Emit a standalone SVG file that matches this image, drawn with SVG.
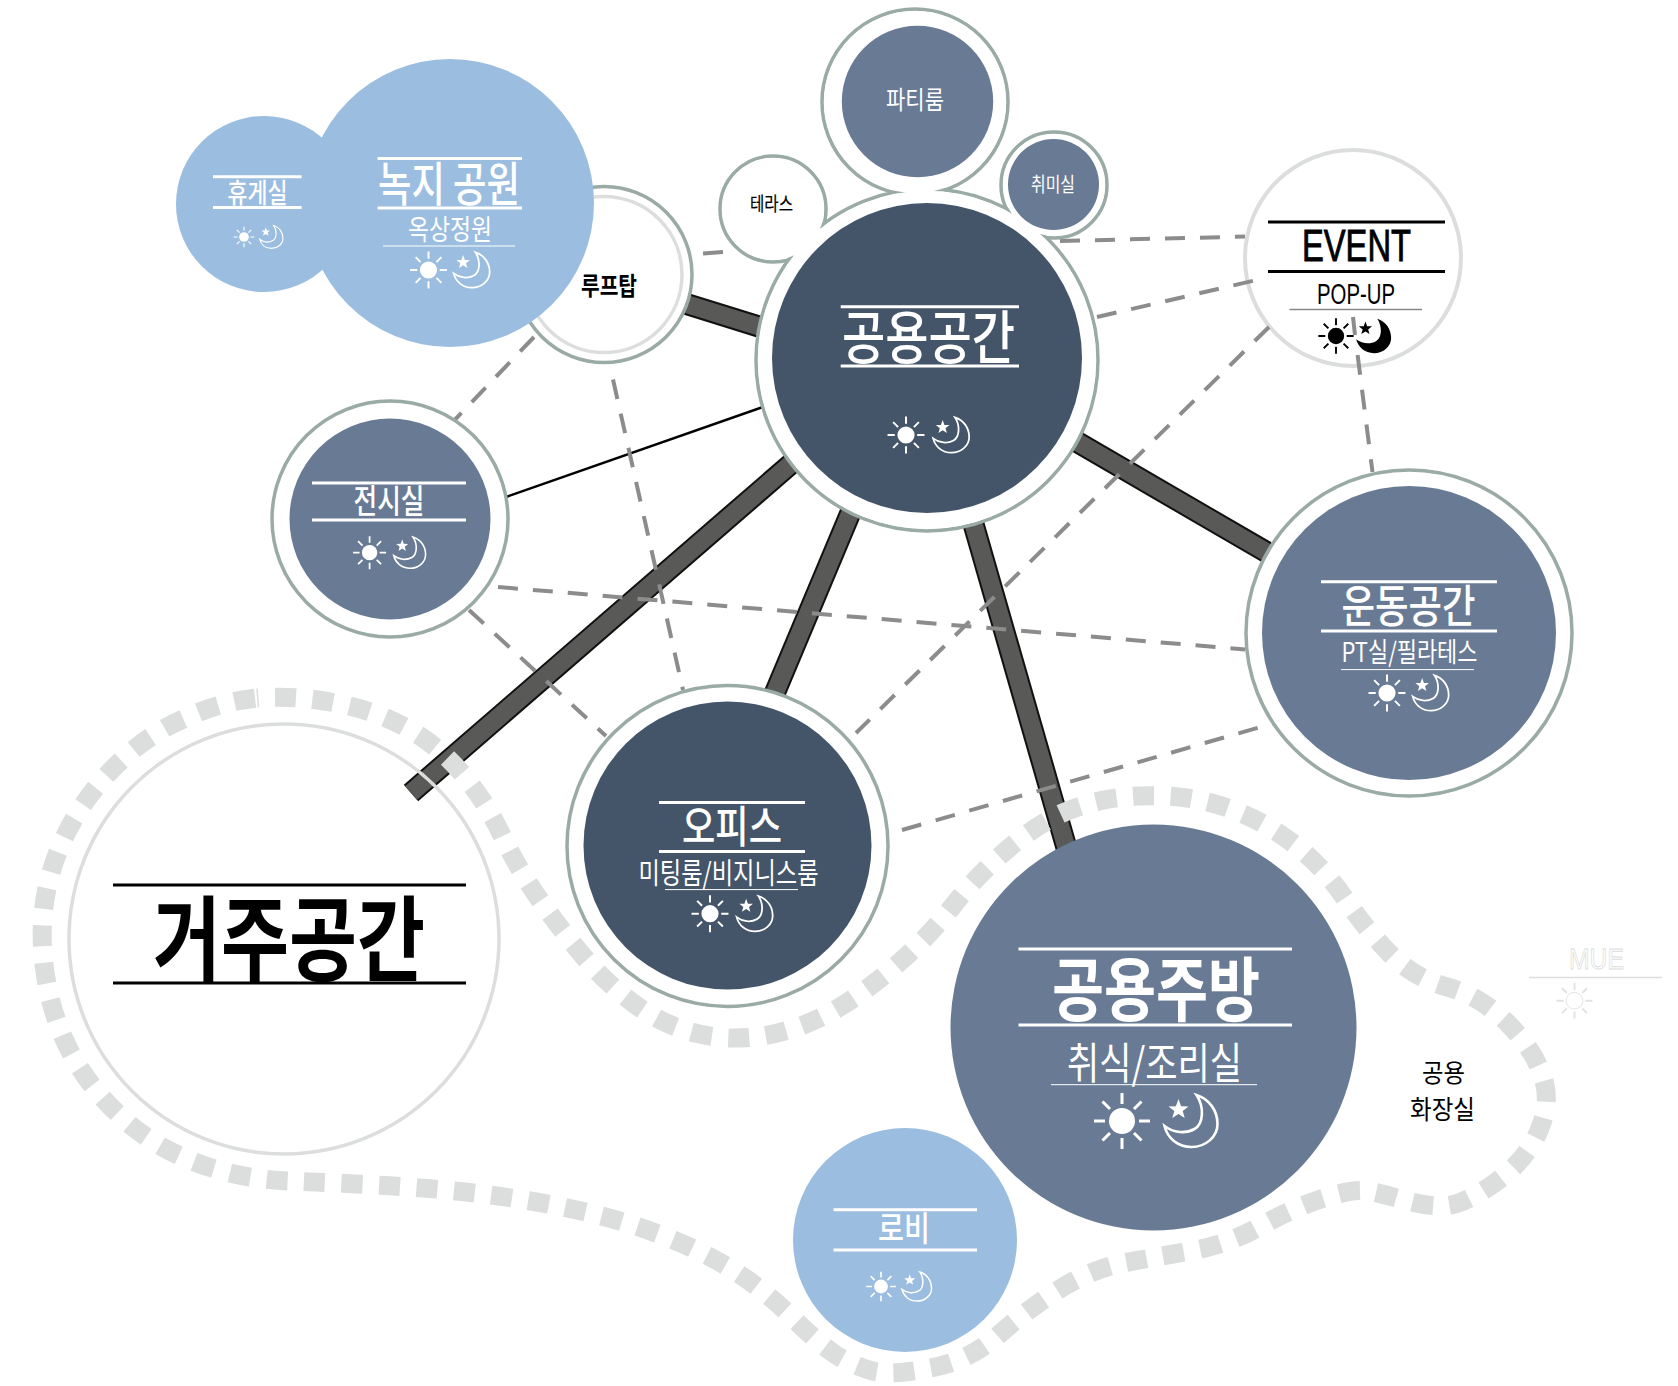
<svg xmlns="http://www.w3.org/2000/svg" width="1678" height="1386" viewBox="0 0 1678 1386">
<style>
text{font-family:"Noto Sans CJK KR","Noto Sans",sans-serif;fill:#fff;font-weight:400}
.k{fill:#000}.b{font-weight:700}.m{font-weight:500}
.en{font-family:"Liberation Sans",sans-serif}
.ring{fill:#fff;stroke:#9aaaa5;stroke-width:3.500}
.cover{fill:#fff;stroke:none}
.light{fill:#fff;stroke:#dcdddd;stroke-width:4}
.sky{fill:#9bbddf}.mid{fill:#697b94}.deep{fill:#445569}
.r{stroke:#fff;stroke-width:3}.rs{stroke:#fff;stroke-width:1}
.rk{stroke:#000;stroke-width:3}
.barO{stroke:#111;stroke-width:22;fill:none}.barI{stroke:#595957;stroke-width:18;fill:none}
.dash{stroke:#8c8c8c;stroke-width:4;stroke-dasharray:20 15;fill:none}
.solid{stroke-dasharray:none}
</style>
<defs>
<path id="rays" stroke-width="3" d="M0-17V-28M0 17V28M-17 0H-28M17 0H28M-12-12L-19.500-19.500M12-12L19.500-19.500M-12 12L-19.500 19.500M12 12L19.500 19.500"/>
<path id="crescent" d="M5-26C18-22 26-10 26 3C26 16 14 26 0 26C-14 26-24 17-27 5C-18 12-6 13 3 8C12 3 13-14 5-26Z"/>
<polygon id="star" points="-13,-22 -10.400,-14.800 -3,-14.600 -8.800,-10 -6.800,-3 -13,-7 -19.200,-3 -17.200,-10 -23,-14.600 -15.600,-14.800"/>
<g id="sun"><circle r="13" fill="#fff"/><use href="#rays" stroke="#fff"/></g>
<g id="moon"><use href="#crescent" fill="none" stroke="#fff" stroke-width="2.600"/><use href="#star" fill="#fff"/></g>
<g id="sunK"><circle r="13" fill="#000"/><use href="#rays" stroke="#000"/></g>
<g id="moonK"><use href="#crescent" fill="#000"/><use href="#star" fill="#000"/></g>
</defs>
<rect width="1678" height="1386" fill="#fff"/>

<g id="n-event">
<circle class="light" cx="1353" cy="258" r="108"/>
<path class="rk" d="M1268 222H1445M1268 271.500H1445"/>
<path d="M1289.500 309.500H1422" stroke="#888" stroke-width="1.500"/>
<text class="k en" x="1302" y="261" font-size="45" textLength="109" lengthAdjust="spacingAndGlyphs" style="stroke:#000;stroke-width:.9">EVENT</text>
<text class="k en" x="1317" y="303.500" font-size="30" textLength="78" lengthAdjust="spacingAndGlyphs">POP-UP</text>
<use href="#sunK" transform="translate(1336 336) scale(.63)"/><use href="#moonK" transform="translate(1374 336) scale(.66)"/>
</g>

<g id="connectors">
<g class="bars">
<path class="barO" d="M680 302L770 330"/><path class="barI" d="M680 302L770 330"/>
<path class="barO" d="M800 456L411 793"/><path class="barI" d="M800 456L411 793"/>
<path class="barO" d="M860 490L774 695"/><path class="barI" d="M860 490L774 695"/>
<path class="barO" d="M968 505L1070 860"/><path class="barI" d="M968 505L1070 860"/>
<path class="barO" d="M1060 432L1280 560"/><path class="barI" d="M1060 432L1280 560"/>
<path d="M506 497L770 404.500" stroke="#000" stroke-width="2.500"/>
</g>
<g class="dashes">
<path class="dash" d="M1060 241L1245 236.600"/>
<path class="dash" d="M1097 317L1261 279"/>
<path class="dash" d="M1269 327L856 733"/>
<path class="dash" d="M1357.600 355L1372.500 472"/>
<path class="dash solid" d="M1353 317L1355 335"/>
<path class="dash" d="M498 587L1245 649.500"/>
<path class="dash" d="M534 337L455 419.600"/>
<path class="dash" d="M469 610L606 736"/>
<path class="dash" d="M613 379.500L683 690"/>
<path class="dash solid" d="M703 253.600L723 252"/>
<path class="dash" d="M902 830L1285 720"/>
</g>
</g>

<path id="boundary" fill="none" stroke="#dcdddd" stroke-width="19" stroke-dasharray="21 16.500" stroke-dashoffset="-18" d="M257 698Q294.600 695 334.800 702.800Q375 710.500 405.800 727.300Q436.500 744 460.800 772Q485 800 501 833.500Q517 867 538.500 898Q560 929 584 957Q608 985 637.500 1006.300Q667 1027.500 703 1034.800Q739 1042 775.300 1033.500Q811.500 1025 842.300 1005.500Q873 986 901 961Q929 936 952 907Q975 878 1001.500 854.500Q1028 831 1051.500 818.500Q1075 806 1102.500 800.300Q1130 794.500 1166 796Q1202 797.600 1235.500 810.800Q1269 824 1297 846.500Q1325 869 1345.300 899Q1365.600 929 1389.700 953.500Q1413.800 978 1447.300 987Q1480.700 996 1507.400 1023Q1534 1050 1542 1075Q1552 1100 1539 1130.500Q1526 1161 1494 1183.500Q1462 1206 1443 1206Q1424.500 1206 1405.700 1200.500Q1387 1195 1371 1191.500Q1355 1188 1324 1198Q1293 1208 1261 1226Q1229 1244 1194 1250.300Q1159 1256.500 1125.700 1262.500Q1092.400 1268.600 1060.200 1288.800Q1028 1309 998.500 1335Q969 1361 930.300 1368Q891.600 1376 872.800 1371Q854 1366 836.800 1355.500Q819.500 1344.500 791.300 1316.600Q763 1288.700 732.400 1269.700Q701.700 1250.700 664.200 1236.200Q626.700 1221.700 589.200 1212.900Q551.700 1204 514.200 1198.400Q476.700 1192.700 437.900 1189.400Q399 1186 360 1184.200Q321 1182.400 283.500 1180.700Q246 1179 208.700 1167Q171.400 1155 143.200 1134.800Q115 1114.600 92.300 1085.600Q69.600 1056.500 57.600 1023Q45.500 989.600 42.800 951.700Q40 913.700 49.500 877.900Q59 842 79 810.900Q99 779.700 127 755.200Q155 730.600 187.300 717.300Q219.600 702 257 698"/>

<g id="hub-halo">
<circle class="ring" cx="915" cy="102" r="93"/>
<circle class="ring" cx="773" cy="209" r="53"/>
<circle class="ring" cx="1054" cy="185" r="53"/>
<circle class="ring" cx="927" cy="360" r="171"/>
</g>

<g id="n-party">
<circle class="cover" cx="915" cy="102" r="91"/>
<circle class="mid" cx="917.500" cy="101.500" r="75.700"/>
<text x="886" y="109" font-size="24.500" textLength="58" lengthAdjust="spacingAndGlyphs">파티룸</text>
</g>
<g id="n-hobby">
<circle class="cover" cx="1054" cy="185" r="51"/>
<circle class="mid" cx="1053.500" cy="184.500" r="45.500"/>
<text x="1031" y="192" font-size="20" textLength="44" lengthAdjust="spacingAndGlyphs">취미실</text>
</g>
<g id="n-terrace">
<circle class="cover" cx="773" cy="209" r="51"/>
<text class="k" x="750" y="211" font-size="19" textLength="43" lengthAdjust="spacingAndGlyphs" style="stroke:#000;stroke-width:.2">테라스</text>
</g>
<g id="n-hub">
<circle class="cover" cx="927" cy="360" r="169"/>
<circle class="deep" cx="927" cy="358" r="155"/>
<path class="r" d="M840.700 306.700H1019M840.700 366H1019"/>
<text class="m" x="842" y="359" font-size="58" textLength="173" lengthAdjust="spacingAndGlyphs">공용공간</text>
<use href="#sun" transform="translate(906 435) scale(.66)"/><use href="#moon" transform="translate(951.500 435) scale(.68)"/>
</g>

<g id="n-rooftop">
<circle class="ring" cx="604" cy="274.500" r="88"/>
<circle cx="604" cy="274.500" r="78" fill="none" stroke="#dcdddd" stroke-width="3.500"/>
<text class="k b" x="581" y="295" font-size="25" textLength="56" lengthAdjust="spacingAndGlyphs">루프탑</text>
</g>
<g id="n-rest">
<circle class="sky" cx="264" cy="204" r="88"/>
<path class="r" d="M213 176.800H301.600M213 207.600H301.600"/>
<text class="m" x="227.500" y="203" font-size="27" textLength="60" lengthAdjust="spacingAndGlyphs">휴게실</text>
<use href="#sun" transform="translate(244 237) scale(.37)"/><use href="#moon" transform="translate(271.500 237) scale(.44)"/>
</g>
<g id="n-garden">
<circle class="sky" cx="450" cy="203" r="144"/>
<path class="r" d="M377.600 158.500H522M377.600 208H522"/>
<path class="rs" d="M383 246H515"/>
<text class="m" x="378" y="201" font-size="47" textLength="142" lengthAdjust="spacingAndGlyphs">녹지 공원</text>
<text x="408" y="240" font-size="28" textLength="84" lengthAdjust="spacingAndGlyphs">옥상정원</text>
<use href="#sun" transform="translate(428.500 270) scale(.66)"/><use href="#moon" transform="translate(472 270) scale(.68)"/>
</g>
<g id="n-gallery">
<circle class="ring" cx="390" cy="519" r="118"/>
<circle class="mid" cx="390" cy="519" r="100.500"/>
<path class="r" d="M312 483H466M312 520H466"/>
<text class="m" x="353.500" y="513" font-size="33" textLength="71" lengthAdjust="spacingAndGlyphs">전시실</text>
<use href="#sun" transform="translate(369.600 552.700) scale(.59)"/><use href="#moon" transform="translate(410 552.700) scale(.6)"/>
</g>
<g id="n-office">
<circle class="ring" cx="727.500" cy="846" r="160.500"/>
<circle class="deep" cx="727.500" cy="845.600" r="144"/>
<path class="r" d="M659 802.500H805M659 851.600H805"/>
<path class="rs" d="M665 889.600H798"/>
<text class="m" x="682" y="843" font-size="44" textLength="100" lengthAdjust="spacingAndGlyphs">오피스</text>
<text x="638.500" y="884" font-size="29" textLength="180" lengthAdjust="spacingAndGlyphs">미팅룸/비지니스룸</text>
<use href="#sun" transform="translate(710 913.700) scale(.66)"/><use href="#moon" transform="translate(755 913.700) scale(.68)"/>
</g>
<g id="n-fitness">
<circle class="ring" cx="1409" cy="633" r="163"/>
<circle class="mid" cx="1409" cy="633" r="147"/>
<path class="r" d="M1321 581.700H1497M1321 631H1497"/>
<path class="rs" d="M1341 669.600H1474"/>
<text class="m" x="1341.500" y="622.500" font-size="45" textLength="134" lengthAdjust="spacingAndGlyphs">운동공간</text>
<text x="1341.500" y="662" font-size="27" textLength="136" lengthAdjust="spacingAndGlyphs">PT실/필라테스</text>
<use href="#sun" transform="translate(1387 693) scale(.66)"/><use href="#moon" transform="translate(1431 693) scale(.68)"/>
</g>
<g id="n-living">
<circle cx="284" cy="939" r="215" fill="none" stroke="#dcdddd" stroke-width="3.500"/>
<path class="rk" d="M113 885H466M113 983H466"/>
<text class="k b" x="153" y="974" font-size="93" textLength="272" lengthAdjust="spacingAndGlyphs">거주공간</text>
</g>
<g id="n-kitchen">
<circle class="mid" cx="1153.500" cy="1027.500" r="203"/>
<path class="r" d="M1018.500 949H1292M1018.500 1025H1292"/>
<path class="rs" d="M1051 1084.700H1257"/>
<text class="b" x="1052" y="1016" font-size="70" textLength="208" lengthAdjust="spacingAndGlyphs">공용주방</text>
<text x="1067" y="1079" font-size="43" textLength="175" lengthAdjust="spacingAndGlyphs">취식/조리실</text>
<use href="#sun" transform="translate(1122 1121)"/><use href="#moon" transform="translate(1191.500 1121)"/>
</g>
<g id="n-lobby">
<circle class="sky" cx="905" cy="1240" r="112"/>
<path class="r" d="M833.500 1209.700H977M833.500 1250H977"/>
<text class="m" x="878" y="1241" font-size="34" textLength="52" lengthAdjust="spacingAndGlyphs">로비</text>
<use href="#sun" transform="translate(881 1286.500) scale(.53)"/><use href="#moon" transform="translate(917 1286.500) scale(.56)"/>
</g>
<g id="n-toilet">
<text class="k" x="1422" y="1081.500" font-size="25" textLength="43" lengthAdjust="spacingAndGlyphs">공용</text>
<text class="k" x="1410" y="1118.500" font-size="26" textLength="65" lengthAdjust="spacingAndGlyphs">화장실</text>
</g>
<g id="n-mue">
<text class="en" x="1569" y="969" font-size="30" textLength="55" lengthAdjust="spacingAndGlyphs" style="fill:#fff;stroke:#dcdddd;stroke-width:.8">MUE</text>
<path d="M1529 977.500H1662" stroke="#dcdddd" stroke-width="1.500"/>
<g transform="translate(1574.500 1000.700) scale(.64)" fill="#fff" stroke="#e2e2e2" stroke-width="1.500"><circle r="13"/><path d="M0-17V-28M0 17V28M-17 0H-28M17 0H28M-12-12L-19.500-19.500M12-12L19.500-19.500M-12 12L-19.500 19.500M12 12L19.500 19.500" stroke-width="3"/></g>
</g>
</svg>
